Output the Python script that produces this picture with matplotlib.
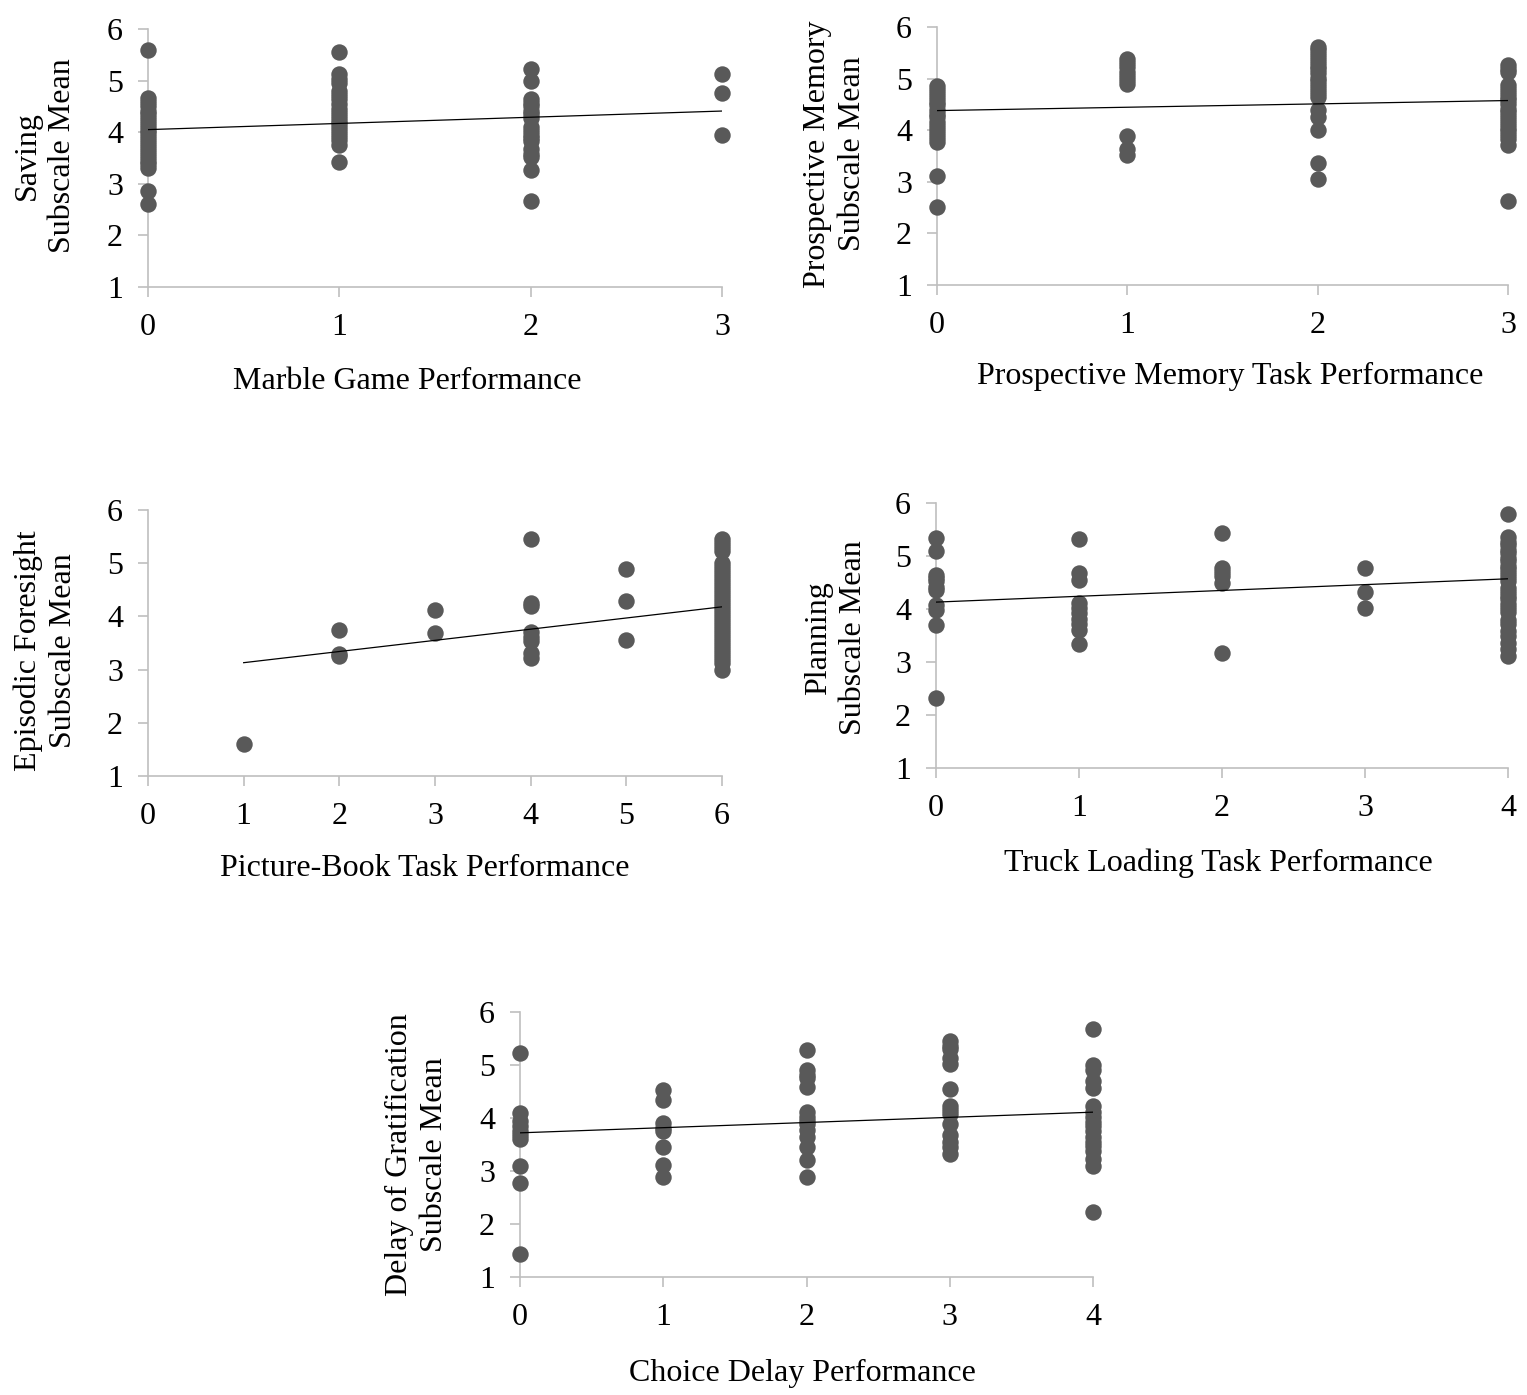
import numpy as np
import matplotlib
matplotlib.use("Agg")
import matplotlib.pyplot as plt

plt.rcParams["font.family"] = ["Liberation Serif", "DejaVu Serif"]

# ---- data ----
# panel 1: marble game vs saving
marble_levels = [0, 1, 2, 3]
saving_means = [
    [5.60, 4.66, 4.58, 4.50, 4.42, 4.35, 4.28, 4.20, 4.12, 4.05, 3.98, 3.90, 3.82,
     3.75, 3.68, 3.60, 3.52, 3.45, 3.38, 3.30, 2.87, 2.60],
    [5.55, 5.12, 5.03, 4.95, 4.80, 4.72, 4.65, 4.55, 4.45, 4.38, 4.30, 4.22, 4.15,
     4.08, 4.00, 3.92, 3.85, 3.75, 3.43],
    [5.23, 5.00, 4.65, 4.57, 4.50, 4.42, 4.35, 4.28, 4.10, 4.03, 3.95, 3.88, 3.82,
     3.68, 3.58, 3.52, 3.27, 2.66],
    [5.13, 4.76, 3.94],
]
saving_fit = (4.05, 0.12)  # intercept, slope

# panel 2: prospective memory task vs prospective memory subscale
pm_levels = [0, 1, 2, 3]
pm_means = [
    [4.85, 4.78, 4.70, 4.62, 4.55, 4.48, 4.40, 4.32, 4.25, 4.15, 4.08, 4.00, 3.92,
     3.85, 3.78, 3.12, 2.52],
    [5.38, 5.30, 5.22, 5.12, 5.05, 4.97, 4.90, 3.88, 3.63, 3.52],
    [5.62, 5.55, 5.48, 5.40, 5.32, 5.25, 5.18, 5.10, 5.02, 4.95, 4.88, 4.80, 4.72,
     4.65, 4.40, 4.25, 4.01, 3.36, 3.06],
    [5.26, 5.18, 5.12, 4.88, 4.80, 4.72, 4.65, 4.58, 4.50, 4.42, 4.35, 4.28, 4.20,
     4.12, 4.05, 3.98, 3.90, 3.82, 3.72, 2.63],
]
pm_fit = (4.38, 0.065)

# panel 3: picture-book task vs episodic foresight
book_levels = [1, 2, 3, 4, 5, 6]
foresight_means = [
    [1.60],
    [3.75, 3.30, 3.25],
    [4.12, 3.68],
    [5.45, 4.25, 4.20, 3.70, 3.62, 3.53, 3.31, 3.22],
    [4.89, 4.29, 3.56],
    [5.45, 5.38, 5.30, 5.22, 5.00, 4.92, 4.85, 4.78, 4.70, 4.62, 4.55, 4.48, 4.40,
     4.32, 4.25, 4.18, 4.10, 4.02, 3.95, 3.88, 3.80, 3.72, 3.65, 3.58, 3.50, 3.42,
     3.35, 3.28, 3.20, 3.12, 3.00],
]
foresight_fit = (2.92, 0.21)

# panel 4: truck loading task vs planning
truck_levels = [0, 1, 2, 3, 4]
planning_means = [
    [5.34, 5.09, 4.65, 4.58, 4.52, 4.42, 4.35, 4.07, 3.99, 3.69, 2.33],
    [5.32, 4.67, 4.54, 4.12, 4.02, 3.92, 3.82, 3.72, 3.60, 3.34],
    [5.43, 4.77, 4.70, 4.63, 4.50, 3.17],
    [4.78, 4.32, 4.01],
    [5.79, 5.35, 5.27, 5.20, 5.12, 5.05, 4.97, 4.90, 4.82, 4.75, 4.67, 4.60, 4.52,
     4.40, 4.32, 4.25, 4.18, 4.10, 4.02, 3.95, 3.80, 3.72, 3.58, 3.50, 3.35, 3.25,
     3.12],
]
planning_fit = (4.13, 0.11)

# panel 5: choice delay vs delay of gratification
choice_levels = [0, 1, 2, 3, 4]
delay_means = [
    [5.22, 4.10, 3.95, 3.85, 3.75, 3.68, 3.60, 3.10, 2.77, 1.43],
    [4.53, 4.34, 3.90, 3.82, 3.75, 3.45, 3.12, 2.88],
    [5.28, 4.91, 4.82, 4.75, 4.58, 4.12, 4.02, 3.95, 3.88, 3.78, 3.65, 3.45, 3.21,
     2.88],
    [5.45, 5.35, 5.30, 5.14, 5.02, 4.55, 4.23, 4.15, 4.08, 3.89, 3.67, 3.54, 3.45,
     3.32],
    [5.68, 5.00, 4.91, 4.70, 4.57, 4.23, 4.12, 4.02, 3.92, 3.85, 3.75, 3.65, 3.55,
     3.47, 3.38, 3.23, 3.10, 2.22],
]
delay_fit = (3.72, 0.0975)

W, H = 1527, 1395
fig = plt.figure(figsize=(W / 100, H / 100), dpi=100)

DOT = "#595959"
AXC = "#bfbfbf"
FS = 23


def panel(px_left, px_right, px_top, px_bottom, levels, means, fit, xmax,
          xlabel, xlab_pos, ylabel, ylab_pos):
    ax = fig.add_axes([px_left / W, 1 - px_bottom / H,
                       (px_right - px_left) / W, (px_bottom - px_top) / H])
    xs = np.concatenate([[lv] * len(m) for lv, m in zip(levels, means)])
    ys = np.concatenate(means)
    ax.scatter(xs, ys, s=140, color=DOT, linewidths=0, zorder=3, clip_on=False)
    # trend line over the range of the observed x values
    b0, b1 = fit
    xl = np.array([min(levels), max(levels)])
    ax.plot(xl, b0 + b1 * xl, color="black", lw=0.9, zorder=4)
    ax.set_xlim(0, xmax)
    ax.set_ylim(1, 6)
    ax.set_xticks(range(0, xmax + 1))
    ax.set_yticks(range(1, 7))
    for s in ["top", "right"]:
        ax.spines[s].set_visible(False)
    for s in ["left", "bottom"]:
        ax.spines[s].set_color(AXC)
        ax.spines[s].set_linewidth(1.2)
    ax.tick_params(axis="both", colors=AXC, labelcolor="black", labelsize=FS,
                   length=7, width=1.2, direction="out")
    ax.tick_params(axis="x", pad=12)
    ax.tick_params(axis="y", pad=11)
    ax.patch.set_visible(False)
    fig.text(xlab_pos[0] / W, 1 - xlab_pos[1] / H, xlabel, fontsize=FS,
             ha="center", va="center")
    fig.text(ylab_pos[0] / W, 1 - ylab_pos[1] / H, ylabel, fontsize=FS,
             ha="center", va="center", rotation=90, linespacing=1.28)
    return ax


panel(148, 722, 29, 287, marble_levels, saving_means, saving_fit, 3,
      "Marble Game Performance", (407, 381),
      "Saving\nSubscale Mean", (45, 156))
panel(937, 1508, 27, 285, pm_levels, pm_means, pm_fit, 3,
      "Prospective Memory Task Performance", (1230, 376),
      "Prospective Memory\nSubscale Mean", (835, 154))
panel(148, 722, 510, 776, book_levels, foresight_means, foresight_fit, 6,
      "Picture-Book Task Performance", (425, 868),
      "Episodic Foresight\nSubscale Mean", (46, 651))
panel(936, 1508, 503, 768, truck_levels, planning_means, planning_fit, 4,
      "Truck Loading Task Performance", (1218, 863),
      "Planning\nSubscale Mean", (836, 638))
panel(520, 1093, 1012, 1277, choice_levels, delay_means, delay_fit, 4,
      "Choice Delay Performance", (802, 1373),
      "Delay of Gratification\nSubscale Mean", (417, 1155))

fig.savefig("out.png", dpi=100)
